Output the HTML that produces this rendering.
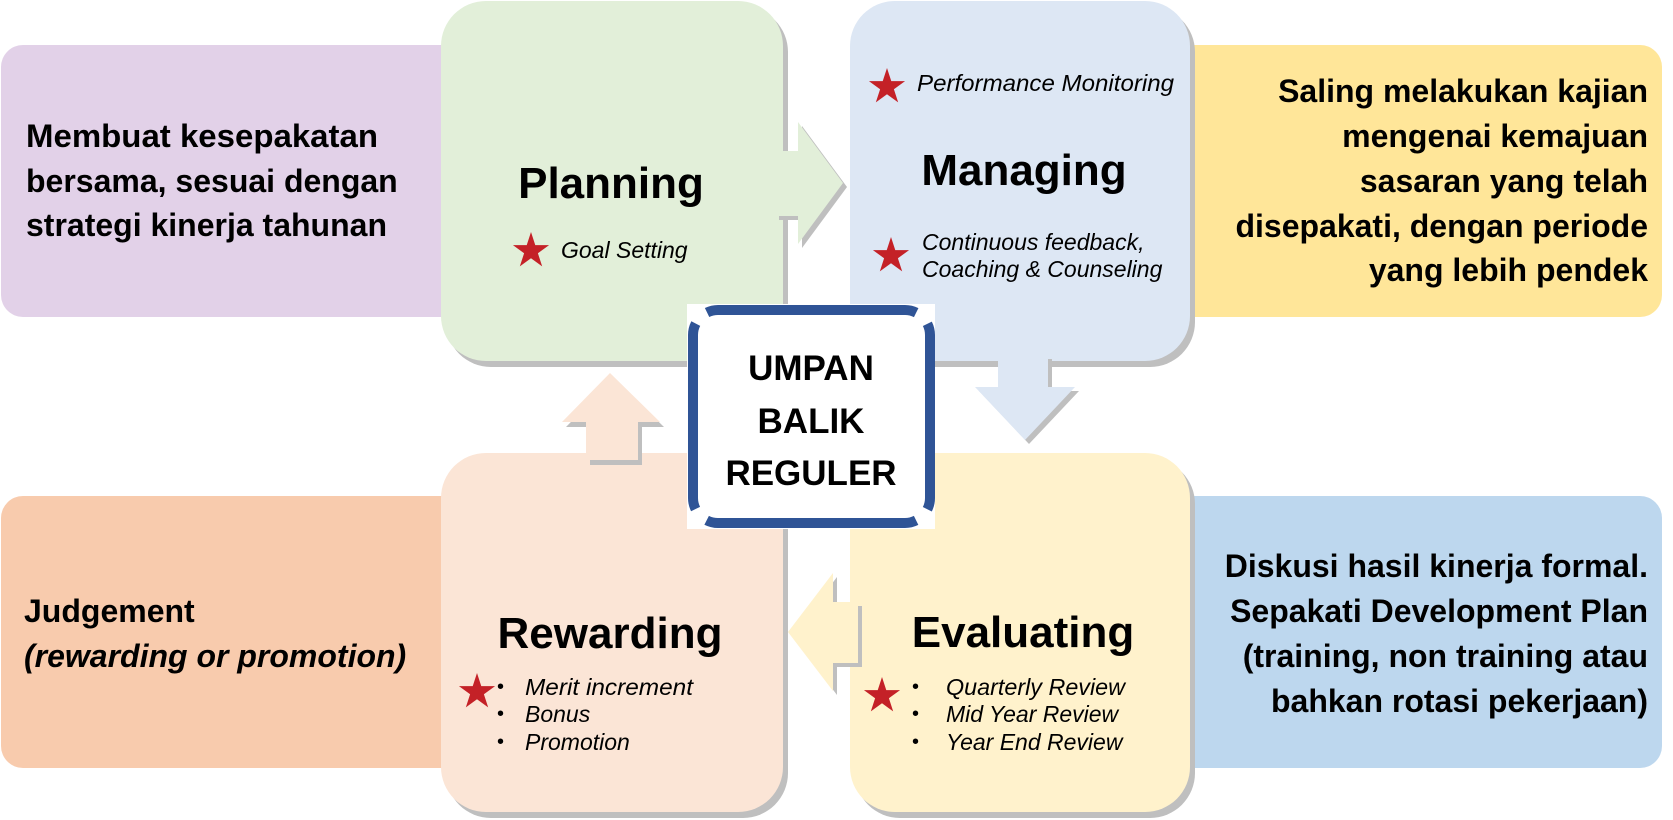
<!DOCTYPE html>
<html>
<head>
<meta charset="utf-8">
<style>
  html,body{margin:0;padding:0;background:#ffffff;overflow:hidden;}
  svg{display:block;}
  text{font-family:"Liberation Sans", Arial, sans-serif;fill:#000;}
</style>
</head>
<body>
<svg width="1673" height="820" viewBox="0 0 1673 820" xmlns="http://www.w3.org/2000/svg">
  <defs>
    <polygon id="st" points="0,-19 4.27,-5.87 18.07,-5.87 6.9,2.24 11.17,15.37 0,7.26 -11.17,15.37 -6.9,2.24 -18.07,-5.87 -4.27,-5.87" fill="#c42127"/>
  </defs>

  <!-- side boxes -->
  <rect x="1" y="45" width="480" height="272" rx="22" fill="#e2d1e8"/>
  <rect x="1150" y="45" width="512" height="272" rx="22" fill="#ffe699"/>
  <rect x="1" y="496" width="480" height="272" rx="22" fill="#f8cbad"/>
  <rect x="1150" y="496" width="512" height="272" rx="22" fill="#bdd7ee"/>

  <!-- big box shadows -->
  <g fill="#bfbfbf">
    <rect x="446" y="7" width="342" height="360" rx="45"/>
    <rect x="855" y="7" width="340" height="360" rx="45"/>
    <rect x="446" y="459" width="342" height="359" rx="45"/>
    <rect x="855" y="459" width="340" height="359" rx="45"/>
  </g>

  <!-- big boxes -->
  <rect x="441" y="1" width="342" height="360" rx="45" fill="#e2efd9"/>
  <rect x="850" y="1" width="340" height="360" rx="45" fill="#dde7f4"/>
  <rect x="441" y="453" width="342" height="359" rx="45" fill="#fbe5d6"/>
  <rect x="850" y="453" width="340" height="359" rx="45" fill="#fff2cc"/>

  <!-- arrow shadows -->
  <g fill="#bfbfbf">
    <polygon points="779,155 802,155 802,126 847,187 802,248 802,220 779,220"/>
    <polygon points="1002,359 1052,359 1052,391 1079,391 1029,444 979,391 1002,391"/>
    <polygon points="590,465 642,465 642,427 664,427 614,378 566,427 590,427"/>
    <polygon points="862,606 837,606 837,577 792,636 837,695 837,667 862,667"/>
  </g>

  <!-- arrows -->
  <polygon points="775,151 798,151 798,122 843,183 798,244 798,216 775,216" fill="#e2efd9"/>
  <polygon points="998,355 1048,355 1048,387 1075,387 1025,440 975,387 998,387" fill="#dde7f4"/>
  <polygon points="586,460 638,460 638,422 660,422 610,373 562,422 586,422" fill="#fbe5d6"/>
  <polygon points="858,602 833,602 833,573 788,632 833,691 833,663 858,663" fill="#fff2cc"/>

  <!-- center box -->
  <rect x="687" y="304" width="248" height="225" fill="#ffffff"/>
  <path d="M 718 310 H 905 A 25 25 0 0 1 930 335 V 498 A 25 25 0 0 1 905 523 H 718 A 25 25 0 0 1 693 498 V 335 A 25 25 0 0 1 718 310 Z"
        fill="none" stroke="#2f5496" stroke-width="10"
        stroke-dasharray="198.6 16 186.3 16 210.3 16 186.3 16 11.6 400"/>
  <g font-weight="bold" font-size="35" text-anchor="middle">
    <text x="811" y="380">UMPAN</text>
    <text x="811" y="433">BALIK</text>
    <text x="811" y="485">REGULER</text>
  </g>

  <!-- side box texts -->
  <g font-weight="bold" font-size="32">
    <text x="26" y="147" textLength="352" lengthAdjust="spacingAndGlyphs">Membuat kesepakatan</text>
    <text x="26" y="192">bersama, sesuai dengan</text>
    <text x="26" y="236">strategi kinerja tahunan</text>

    <text x="24" y="622">Judgement</text>
    <text x="24" y="667" font-style="italic">(rewarding or promotion)</text>
  </g>
  <g font-weight="bold" font-size="32" text-anchor="end">
    <text x="1648" y="102">Saling melakukan kajian</text>
    <text x="1648" y="147">mengenai kemajuan</text>
    <text x="1648" y="192">sasaran yang telah</text>
    <text x="1648" y="237">disepakati, dengan periode</text>
    <text x="1648" y="281">yang lebih pendek</text>

    <text x="1648" y="577">Diskusi hasil kinerja formal.</text>
    <text x="1648" y="622">Sepakati Development Plan</text>
    <text x="1648" y="667">(training, non training atau</text>
    <text x="1648" y="712">bahkan rotasi pekerjaan)</text>
  </g>

  <!-- headings -->
  <g font-weight="bold" font-size="44" text-anchor="middle">
    <text x="611" y="198">Planning</text>
    <text x="1024" y="185">Managing</text>
    <text x="610" y="648">Rewarding</text>
    <text x="1023" y="647">Evaluating</text>
  </g>

  <!-- stars -->
  <use href="#st" x="531" y="251"/>
  <use href="#st" x="887" y="87"/>
  <use href="#st" x="891" y="256"/>
  <use href="#st" x="477" y="692"/>
  <use href="#st" x="882" y="696"/>

  <!-- italic sub-items -->
  <g font-style="italic" font-size="23" fill="#111">
    <text x="561" y="258">Goal Setting</text>
    <text x="917" y="91" textLength="257" lengthAdjust="spacingAndGlyphs">Performance Monitoring</text>
    <text x="922" y="250">Continuous feedback,</text>
    <text x="922" y="277">Coaching &amp; Counseling</text>

    <text x="525" y="695" textLength="168" lengthAdjust="spacingAndGlyphs">Merit increment</text>
    <text x="525" y="722">Bonus</text>
    <text x="525" y="750">Promotion</text>

    <text x="946" y="695" textLength="179" lengthAdjust="spacingAndGlyphs">Quarterly Review</text>
    <text x="946" y="722">Mid Year Review</text>
    <text x="946" y="750">Year End Review</text>
  </g>
  <g font-size="20">
    <text x="497" y="693">•</text>
    <text x="497" y="720">•</text>
    <text x="497" y="748">•</text>
    <text x="912" y="693">•</text>
    <text x="912" y="720">•</text>
    <text x="912" y="748">•</text>
  </g>
</svg>
</body>
</html>
